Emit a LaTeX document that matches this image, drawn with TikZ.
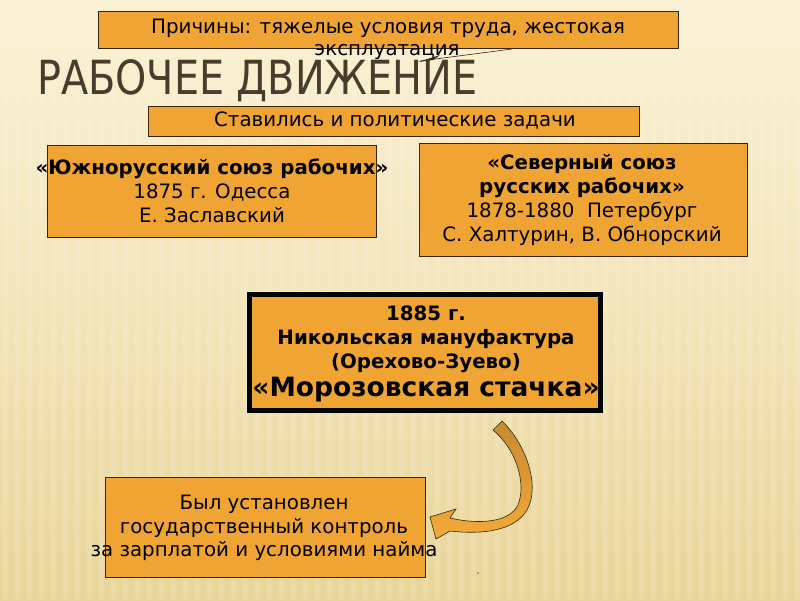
\documentclass[tikz,border=0pt]{standalone}
\usepackage{fontspec}
\setmainfont{DejaVu Sans}
\newfontfamily\titlefont{DejaVu Sans Condensed}
\usetikzlibrary{calc}
\definecolor{boxfill}{HTML}{EFA434}
\definecolor{boxline}{HTML}{3A2410}
\definecolor{titlecol}{HTML}{4A3C2C}
\definecolor{bgtop}{HTML}{FBF2D6}
\definecolor{bgbot}{HTML}{E9D59A}
\definecolor{arrowtop}{HTML}{C68A30}
\definecolor{arrowbot}{HTML}{F3AA38}
\tikzset{
  obox/.style={fill=boxfill, draw=boxline, line width=0.9pt},
  txt/.style={inner sep=0pt, align=center, text=black},
  body/.style={font=\fontsize{19.8}{24}\selectfont},
}
\begin{document}
\begin{tikzpicture}[x=1pt,y=-1pt]
\useasboundingbox (0,0) rectangle (800,600);
% background
\shade[top color=bgtop, bottom color=bgbot, middle color=bgtop!55!bgbot] (0,0) rectangle (800,600);
\foreach \i in {0,...,66} {
  \fill[white, opacity=0.13] (\i*12+3,90) rectangle (\i*12+8,600);
}
% boxes
\draw[obox] (98,11) rectangle (678,48);
\node[txt, body] (t1a) at (388,28) {Причины: тяжелые условия труда, жестокая};
\node[txt, body] (t1b) at (387,52.5) {эксплуатация};
\coordinate (cA) at (420,61);
\coordinate (cB) at (512,49);
\draw[boxline, line width=0.6pt] (cA) -- (cB);
\fill[boxline] (418,62) -- (440,55) -- (433,60) -- cycle;

\node[txt, anchor=west, text=titlecol, xscale=0.94, font=\titlefont\fontsize{47}{50}\selectfont] (title) at (37,80.5) {РАБОЧЕЕ ДВИЖЕНИЕ};

\draw[obox] (148,106) rectangle (639,136);
\node[txt, body] (t2) at (395,121) {Ставились и политические задачи};

\draw[obox] (47,145) rectangle (376,237);
\node[txt, body] (t3) at (212,191) {\textbf{«Южнорусский союз рабочих»}\\1875 г. Одесса\\Е. Заславский};

\draw[obox] (419,143) rectangle (747,256);
\node[txt, font=\fontsize{19.8}{24.3}\selectfont] (t4) at (582,200) {\textbf{«Северный союз}\\\textbf{русских рабочих»}\\1878-1880\ \ Петербург\\С. Халтурин, В. Обнорский};

\draw[fill=boxfill, draw=black, line width=5pt] (249.5,294.5) rectangle (600.5,410.5);
\node[txt, font=\bfseries\fontsize{19.8}{24}\selectfont] (t5) at (426,339) {1885 г.\\Никольская мануфактура\\(Орехово-Зуево)};
\node[txt, font=\bfseries\fontsize{26.5}{30}\selectfont] (t5b) at (426,390) {«Морозовская стачка»};

\draw[obox] (105,477) rectangle (425,577);
\node[txt, font=\fontsize{19.8}{23.5}\selectfont] (t6) at (264,528) {Был установлен\\государственный контроль\\за зарплатой и условиями найма};

% curved block arrow
\shade[top color=arrowtop, bottom color=arrowbot, draw=boxline, line width=0.6pt]
 (493,430) -- (502,421)
 .. controls (525,443) and (541,485) .. (527,510)
 .. controls (515,530) and (485,535) .. (450,531)
 -- (436,539) -- (430,517) -- (456,509) -- (450,518)
 .. controls (480,525) and (510,522) .. (518,505)
 .. controls (527,482) and (515,448) .. cycle;
\fill[black] (478,573) circle (0.7);
\end{tikzpicture}
\end{document}
